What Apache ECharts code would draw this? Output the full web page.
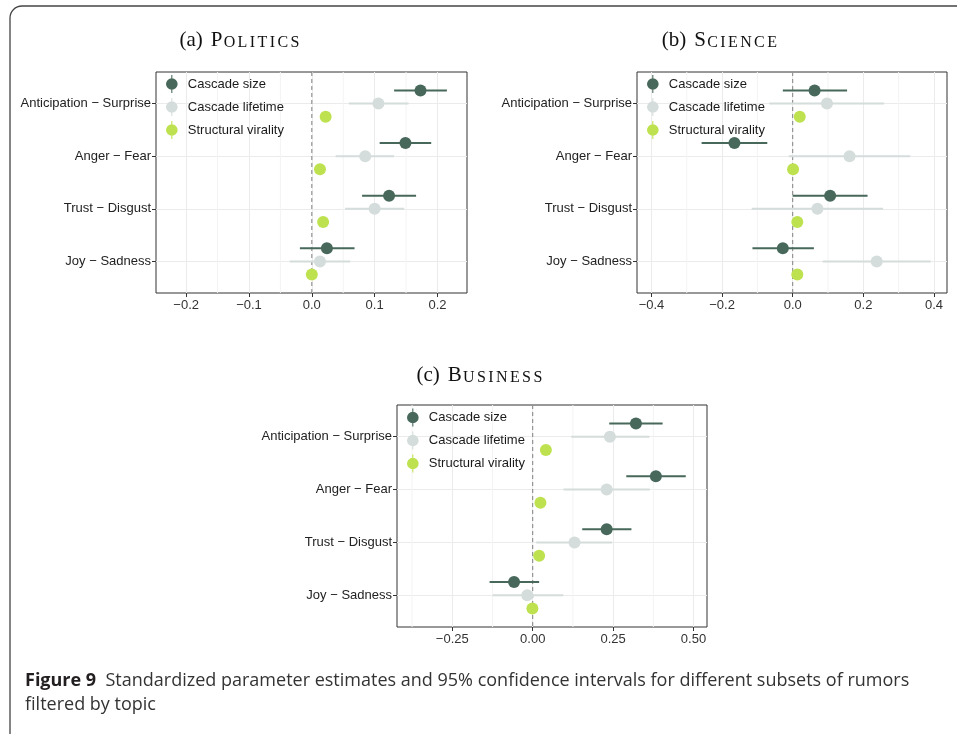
<!DOCTYPE html>
<html>
<head>
<meta charset="utf-8">
<script src="https://cdn.jsdelivr.net/npm/echarts@6/dist/echarts.min.js"></script>
<style>
  html, body { margin: 0; padding: 0; background: #fff; }
  #box { width: 957px; height: 734px; }
</style>
</head>
<body>
<div id="box"></div>
<script>
// rows, top to bottom
const categories = ["Anticipation − Surprise", "Anger − Fear", "Trust − Disgust", "Joy − Sadness"];
const measures = ["Cascade size", "Cascade lifetime", "Structural virality"];

// [estimate, low, high] per row, top to bottom
const politicsSize = [[0.173, 0.131, 0.215], [0.149, 0.108, 0.190], [0.123, 0.080, 0.166], [0.024, -0.019, 0.068]];
const politicsLifetime = [[0.106, 0.059, 0.154], [0.085, 0.038, 0.131], [0.100, 0.053, 0.147], [0.013, -0.035, 0.061]];
const politicsVirality = [[0.022, 0.019, 0.025], [0.013, 0.010, 0.016], [0.018, 0.015, 0.021], [0.000, -0.003, 0.003]];

const scienceSize = [[0.062, -0.028, 0.154], [-0.165, -0.258, -0.072], [0.106, 0.000, 0.212], [-0.028, -0.114, 0.060]];
const scienceLifetime = [[0.097, -0.066, 0.259], [0.161, -0.011, 0.333], [0.070, -0.116, 0.256], [0.238, 0.085, 0.391]];
const scienceVirality = [[0.020, 0.015, 0.025], [0.001, -0.004, 0.006], [0.013, 0.008, 0.018], [0.013, 0.008, 0.018]];

const businessSize = [[0.321, 0.238, 0.404], [0.383, 0.291, 0.476], [0.230, 0.154, 0.307], [-0.058, -0.134, 0.020]];
const businessLifetime = [[0.240, 0.120, 0.363], [0.230, 0.096, 0.364], [0.130, 0.011, 0.247], [-0.017, -0.125, 0.095]];
const businessVirality = [[0.041, 0.036, 0.046], [0.024, 0.019, 0.029], [0.020, 0.015, 0.025], [-0.001, -0.006, 0.004]];

const politicsTicks = [-0.2, -0.1, 0, 0.1, 0.2];
const scienceTicks = [-0.4, -0.2, 0, 0.2, 0.4];
const businessTicks = [-0.25, 0, 0.25, 0.5];

const panels = [
  { tag: "(a)", word: "Politics", sets: [politicsSize, politicsLifetime, politicsVirality],
    ticks: politicsTicks, digits: 1, range: [-0.248, 0.247],
    box: [156, 72, 311, 221], title: [240, 40], legend: [166, 75] },
  { tag: "(b)", word: "Science", sets: [scienceSize, scienceLifetime, scienceVirality],
    ticks: scienceTicks, digits: 1, range: [-0.441, 0.437],
    box: [637, 72, 310, 221], title: [720, 40], legend: [647, 75] },
  { tag: "(c)", word: "Business", sets: [businessSize, businessLifetime, businessVirality],
    ticks: businessTicks, digits: 2, range: [-0.422, 0.542],
    box: [397, 405, 310, 222], title: [480, 375], legend: [407, 408.5] }
];

const dodge = [0.25, 0, -0.25];
const colors = ["#47685a", "#d4dddb", "#bee24f"];
const font = "'Liberation Sans', Arial, sans-serif";
const captionFont = "'Open Sans', 'Noto Sans', sans-serif";
const iconPath = "path://M5,0h1v17h-1z M0,8.5a5.5,5.5 0 1,1 11,0a5.5,5.5 0 1,1 -11,0z";
const rowTicks = categories.map((c, i) => categories.length - i);

// minor gridlines halfway between major ticks
function minorTicks(p) {
  const step = p.ticks[1] - p.ticks[0];
  const out = [];
  for (let v = p.ticks[0] - step / 2; v < p.range[1]; v += step) {
    if (v > p.range[0]) out.push(+v.toFixed(4));
  }
  return out;
}

function vline(color, dash) {
  return function (params, api) {
    const x = api.coord([api.value(0), 1])[0];
    const cs = params.coordSys;
    return {
      type: "line",
      shape: { x1: x, y1: cs.y, x2: x, y2: cs.y + cs.height },
      style: { stroke: color, lineWidth: 1, lineDash: dash }
    };
  };
}

function titleText(p) {
  let s = "{t|" + p.tag + "}{c|" + p.word[0] + "}";
  p.word.slice(1).toUpperCase().split("").forEach(ch => { s += "{s|" + ch + "}"; });
  return s;
}

const grids = [], xAxes = [], yAxes = [], series = [], legends = [];
const graphics = [
  { type: "rect", shape: { x: 10, y: 6, width: 1000, height: 800, r: 12 },
    style: { fill: "none", stroke: "#444", lineWidth: 1.3 }, silent: true }
];

panels.forEach((p, k) => {
  grids.push({ left: p.box[0], top: p.box[1], width: p.box[2], height: p.box[3],
    show: true, borderColor: "#333", borderWidth: 1, backgroundColor: "transparent" });

  xAxes.push({
    type: "value", gridIndex: k, min: p.range[0], max: p.range[1],
    axisLine: { show: false, onZero: false },
    axisTick: { show: true, customValues: p.ticks, length: 4, lineStyle: { color: "#333" } },
    axisLabel: { customValues: p.ticks, fontSize: 13, color: "#333", margin: 6, fontFamily: font,
      formatter: v => v.toFixed(p.digits).replace("-", "−") },
    splitLine: { show: true, lineStyle: { color: "#ebebeb", width: 1 } }
  });

  yAxes.push({
    type: "value", gridIndex: k, min: 0.4, max: 4.6,
    axisLine: { show: false, onZero: false },
    axisTick: { show: true, customValues: rowTicks, length: 4, lineStyle: { color: "#333" } },
    axisLabel: { customValues: rowTicks, fontSize: 13, color: "#222", margin: 5, fontFamily: font,
      formatter: v => categories[categories.length - Math.round(v)] },
    splitLine: { show: true, lineStyle: { color: "#ebebeb", width: 1 } }
  });

  series.push({ type: "custom", xAxisIndex: k, yAxisIndex: k, z: 1, silent: true,
    data: minorTicks(p).map(v => [v, 1]), renderItem: vline("#f3f3f3", null) });
  series.push({ type: "custom", xAxisIndex: k, yAxisIndex: k, z: 1, silent: true,
    data: [[0, 1]], renderItem: vline("#808080", [4, 3]) });

  p.sets.forEach((set, j) => {
    const rows = set.map((d, i) => [categories.length - i + dodge[j], d[0], d[1], d[2]]);
    series.push({
      type: "custom", name: measures[j], xAxisIndex: k, yAxisIndex: k, z: 2, silent: true,
      itemStyle: { color: colors[j] },
      data: rows.map(r => [r[0], r[2], r[3]]),
      encode: { x: [1, 2], y: 0 },
      renderItem: function (params, api) {
        const a = api.coord([api.value(1), api.value(0)]);
        const b = api.coord([api.value(2), api.value(0)]);
        return { type: "line", shape: { x1: a[0], y1: a[1], x2: b[0], y2: b[1] },
          style: { stroke: colors[j], lineWidth: 2 } };
      }
    });
    series.push({
      type: "scatter", name: measures[j], xAxisIndex: k, yAxisIndex: k, z: 3, silent: true,
      symbolSize: 12, itemStyle: { color: colors[j], opacity: 1 },
      data: rows.map(r => [r[1], r[0]])
    });
  });

  legends.push({
    orient: "vertical", left: p.legend[0], top: p.legend[1], padding: 0,
    itemWidth: 22, itemHeight: 18, itemGap: 5, selectedMode: false,
    textStyle: { fontSize: 13, color: "#1a1a1a", fontFamily: font },
    data: measures.map((m, j) => ({ name: m, icon: iconPath, itemStyle: { color: colors[j] } }))
  });

  graphics.push({
    type: "text", x: p.title[0], y: p.title[1], silent: true,
    style: {
      text: titleText(p), align: "center", verticalAlign: "middle", fill: "#111",
      rich: {
        t: { fontSize: 21, fontFamily: "'Liberation Serif', serif", lineHeight: 21, verticalAlign: "bottom", padding: [0, 8, 0, 0], fill: "#111" },
        c: { fontSize: 21, fontFamily: "'Liberation Serif', serif", lineHeight: 21, verticalAlign: "bottom", fill: "#111" },
        s: { fontSize: 16, fontFamily: "'Liberation Serif', serif", lineHeight: 16, verticalAlign: "bottom", padding: [0, 1.2], fill: "#111" }
      }
    }
  });
});

graphics.push({
  type: "text", x: 25, y: 669, silent: true,
  style: {
    text: "{b|Figure 9}  Standardized parameter estimates and 95% confidence intervals for different subsets of rumors\nfiltered by topic",
    fontSize: 18, fontFamily: captionFont,
    lineHeight: 24, fill: "#333", align: "left", verticalAlign: "top",
    rich: { b: { fontWeight: "bold", fontSize: 18, lineHeight: 24,
      fontFamily: captionFont, fill: "#231f20" } }
  }
});

const myChart = echarts.init(document.getElementById("box"));
myChart.setOption({
  animation: false,
  grid: grids,
  xAxis: xAxes,
  yAxis: yAxes,
  legend: legends,
  series: series,
  graphic: graphics
});
</script>
</body>
</html>
